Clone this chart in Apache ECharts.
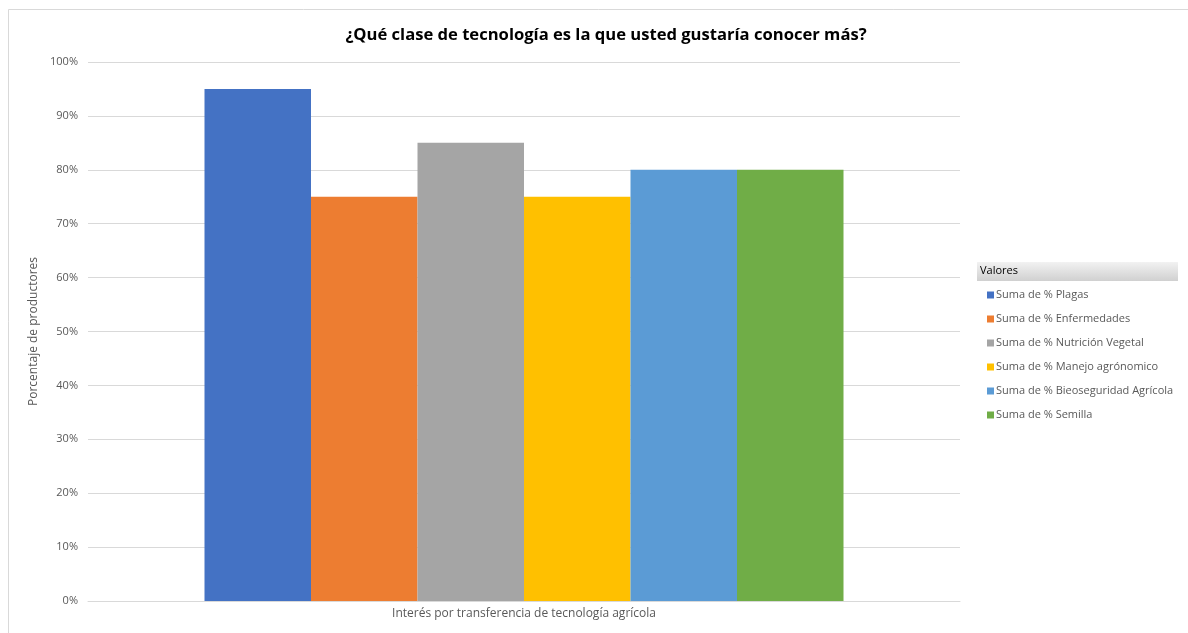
<!DOCTYPE html>
<html>
<head>
<meta charset="utf-8">
<script src="https://cdn.jsdelivr.net/npm/echarts@6/dist/echarts.min.js"></script>
<style>html,body{margin:0;padding:0;background:#fff;}#c{width:1188px;height:633px;}</style>
</head>
<body>
<div id="c"></div>
<script>
const categories = ['Interés por transferencia de tecnología agrícola'];
const seriesNames = ['Suma de % Plagas','Suma de % Enfermedades','Suma de % Nutrición Vegetal','Suma de % Manejo agrónomico','Suma de % Bieoseguridad Agrícola','Suma de % Semilla'];
const seriesValues = [[0.95],[0.75],[0.85],[0.75],[0.80],[0.80]];
const seriesColors = ['#4472C4','#ED7D31','#A5A5A5','#FFC000','#5B9BD5','#70AD47'];
const yTicks = [0,0.1,0.2,0.3,0.4,0.5,0.6,0.7,0.8,0.9,1.0];

const font = "'Open Sans', 'Noto Sans', sans-serif";
const chart = echarts.init(document.getElementById('c'), null, {renderer:'canvas'});
chart.setOption({
  animation:false,
  backgroundColor:'#fff',
  title:{
    text:'¿Qué clase de tecnología es la que usted gustaría conocer más?',
    left:601, top:22, textAlign:'center',
    textStyle:{fontFamily:font, fontSize:16.6, fontWeight:'bold', color:'#000'}
  },
  grid:{left:88, right:228, top:62, bottom:32, containLabel:false},
  legend:{
    orient:'vertical', left:982, top:283,
    icon:'rect', itemWidth:7, itemHeight:7, itemGap:10,
    data:seriesNames,
    textStyle:{fontFamily:font, fontSize:11, color:'#595959', lineHeight:14, padding:[0,0,0,-3]}
  },
  xAxis:{
    type:'category', data:categories,
    axisLine:{lineStyle:{color:'#d9d9d9'}}, axisTick:{show:false},
    axisLabel:{fontFamily:font, fontSize:12, color:'#595959', margin:7}
  },
  yAxis:{
    type:'value', min:0, max:1, interval:0.1,
    name:'Porcentaje de productores', nameLocation:'middle', nameGap:45,
    nameTextStyle:{fontFamily:font, fontSize:12, color:'#595959'},
    axisLine:{show:false}, axisTick:{show:false},
    splitLine:{lineStyle:{color:'#d9d9d9'}},
    axisLabel:{fontFamily:font, fontSize:11, color:'#595959', margin:10,
      formatter:v=>Math.round(v*100)+'%'}
  },
  series: seriesNames.map((n,i)=>({
    name:n, type:'bar', data:seriesValues[i], barWidth:106.5, barGap:'0%',
    itemStyle:{color:seriesColors[i]}
  })),
  graphic:[
    {type:'line', shape:{x1:8.5,y1:9.5,x2:1188,y2:9.5}, style:{stroke:'#d9d9d9',lineWidth:1}},
    {type:'line', shape:{x1:8.5,y1:9.5,x2:8.5,y2:633}, style:{stroke:'#d9d9d9',lineWidth:1}},
    {type:'rect', shape:{x:977,y:262,width:201,height:19},
     style:{fill:new echarts.graphic.LinearGradient(0,0,0,1,[{offset:0,color:'#f2f2f2'},{offset:1,color:'#d0d0d0'}])}},
    {type:'text', left:980, top:265, style:{text:'Valores', fontFamily:font, fontSize:11, fill:'#000'}}
  ]
});
</script>
</body>
</html>
